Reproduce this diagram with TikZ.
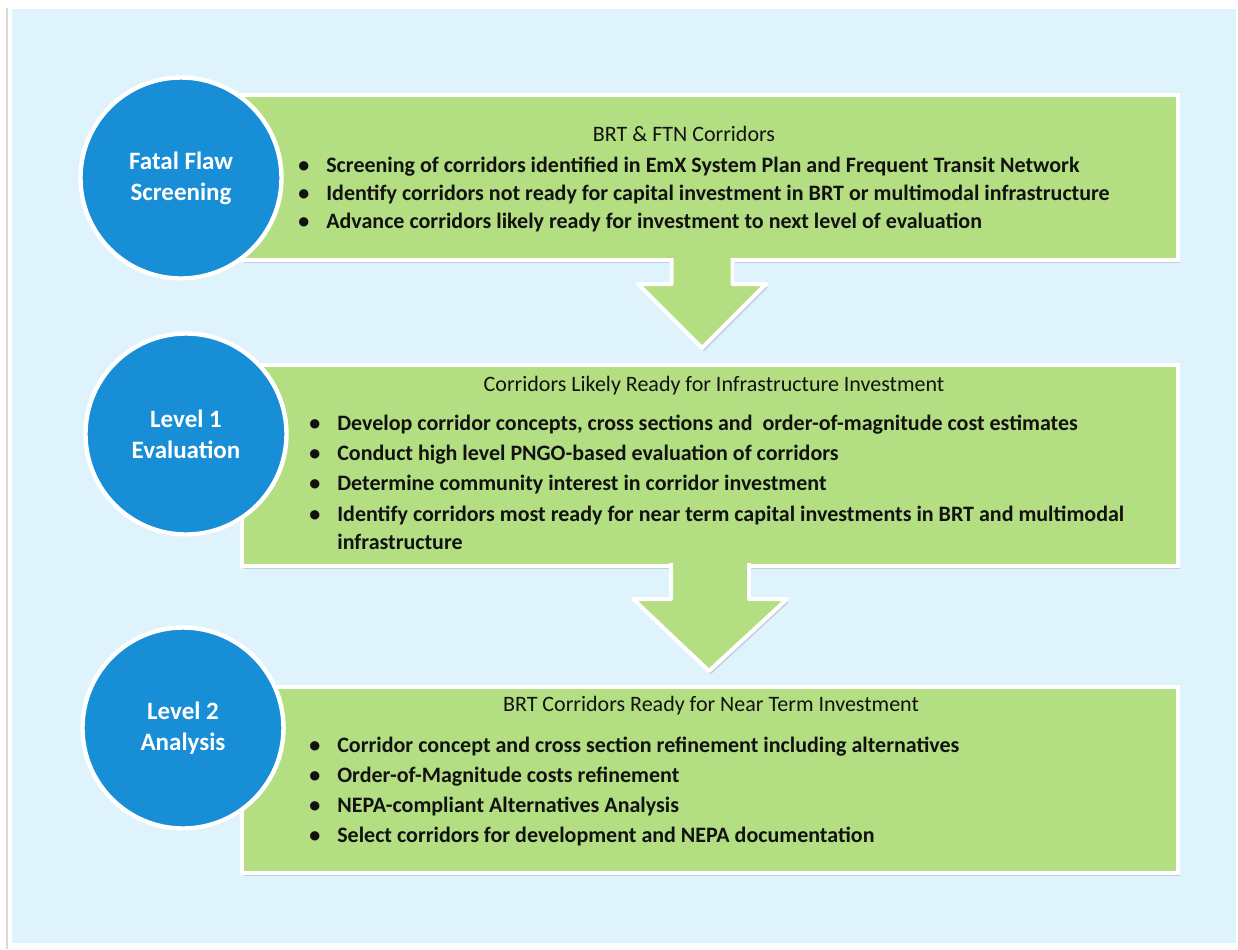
\documentclass[tikz,border=0pt]{standalone}
\usepackage{fontspec}
\setmainfont{Carlito}
\usetikzlibrary{shadows, calc}

\definecolor{paleblue}{RGB}{222,243,252}
\definecolor{stagegreen}{RGB}{179,222,129}
\definecolor{stageblue}{RGB}{23,142,214}
\definecolor{darkink}{RGB}{18,18,18}

\newcommand{\itembul}{\textbullet\hspace{8.5pt}}

\begin{document}
\begin{tikzpicture}[x=0.5pt, y=-0.5pt,
    stagebox/.style={rectangle, fill=stagegreen, draw=white, line width=2pt, minimum width=468pt,
        drop shadow={shadow xshift=1pt, shadow yshift=-1.5pt, opacity=0.3}},
    stagecircle/.style={circle, fill=stageblue, draw=white, line width=2.2pt, minimum size=100.5pt,
        align=center, text=white, font=\bfseries\fontsize{12.5}{15.5}\selectfont,
        drop shadow={shadow xshift=0.5pt, shadow yshift=-1pt, opacity=0.25}},
    boxtitle/.style={anchor=center, inner sep=0pt, text=darkink, font=\fontsize{11}{13}\selectfont,
        text height=0.65em, text depth=0.18em},
    boxitem/.style={anchor=west, inner sep=0pt, text=darkink, font=\bfseries\fontsize{11}{13}\selectfont,
        text height=0.65em, text depth=0.18em},
    flowarrow/.style={fill=stagegreen, drop shadow={shadow xshift=1pt, shadow yshift=-1.5pt, opacity=0.3}},
    flowedge/.style={draw=white, line width=2pt, line join=round}]

    \useasboundingbox (0,0) rectangle (1238,949);
    % background panel
    \fill[paleblue] (12,9) rectangle (1236,943);
    \draw[black!15, line width=0.6pt] (7,8) -- (7,949);

    % the three stages
    \node[stagebox, minimum height=82.5pt] (box1) at (710,177.5) {};
    \node[stagebox, minimum height=100.5pt] (box2) at (710,465.5) {};
    \node[stagebox, minimum height=93pt] (box3) at (710,780) {};

    % block arrows
    \coordinate (a1root) at ([xshift=-4pt,yshift=3pt]box1.south);
    \coordinate (a1tip) at ([xshift=-4pt,yshift=7.5pt]box2.north);
    \fill[flowarrow] ($(a1root)+(-30.5,0)$) -- ($(a1root)+(-30.5,28)$) -- ($(a1root)+(-64,28)$) -- (a1tip)
        -- ($(a1root)+(64,28)$) -- ($(a1root)+(30.5,28)$) -- ($(a1root)+(30.5,0)$) -- cycle;
    \draw[flowedge] ($(a1root)+(-30.5,2)$) -- ($(a1root)+(-30.5,28)$) -- ($(a1root)+(-64,28)$) -- (a1tip)
        -- ($(a1root)+(64,28)$) -- ($(a1root)+(30.5,28)$) -- ($(a1root)+(30.5,2)$);

    \coordinate (a2root) at ([yshift=3.5pt]box2.south);
    \coordinate (a2tip) at ([xshift=-0.5pt,yshift=7pt]box3.north);
    \fill[flowarrow] ($(a2root)+(-39,0)$) -- ($(a2root)+(-39,38)$) -- ($(a2root)+(-77,38)$) -- (a2tip)
        -- ($(a2root)+(77,38)$) -- ($(a2root)+(39,38)$) -- ($(a2root)+(39,0)$) -- cycle;
    \draw[flowedge] ($(a2root)+(-39,2)$) -- ($(a2root)+(-39,38)$) -- ($(a2root)+(-77,38)$) -- (a2tip)
        -- ($(a2root)+(77,38)$) -- ($(a2root)+(39,38)$) -- ($(a2root)+(39,2)$);

    % circles
    \node[stagecircle] (fatal) at (181,178) {Fatal Flaw\\Screening};
    \node[stagecircle] (lvlone) at (186,434) {Level 1\\Evaluation};
    \node[stagecircle] (lvltwo) at (183,728) {Level 2\\Analysis};

    % stage 1 text
    \node[boxtitle] (tfatal) at (684,137) {BRT \& FTN Corridors};
    \node[boxitem] (sa) at (298,168) {\itembul Screening of corridors identified in EmX System Plan and Frequent Transit Network};
    \node[boxitem] (sb) at (298,196) {\itembul Identify corridors not ready for capital investment in BRT or multimodal infrastructure};
    \node[boxitem] (sc) at (298,224) {\itembul Advance corridors likely ready for investment to next level of evaluation};

    % stage 2 text
    \node[boxtitle] (tlvlone) at (714,387) {Corridors Likely Ready for Infrastructure Investment};
    \node[boxitem] (ea) at (309,426) {\itembul Develop corridor concepts, cross sections and\ \ order-of-magnitude cost estimates};
    \node[boxitem] (eb) at (309,456) {\itembul Conduct high level PNGO-based evaluation of corridors};
    \node[boxitem] (ec) at (309,486) {\itembul Determine community interest in corridor investment};
    \node[boxitem] (ed) at (309,517) {\itembul Identify corridors most ready for near term capital investments in BRT and multimodal};
    \node[boxitem] (ee) at (309,545) {\hphantom{\itembul}infrastructure};

    % stage 3 text
    \node[boxtitle] (tlvltwo) at (711,707) {BRT Corridors Ready for Near Term Investment};
    \node[boxitem] (aa) at (309,748) {\itembul Corridor concept and cross section refinement including alternatives};
    \node[boxitem] (ab) at (309,778) {\itembul Order-of-Magnitude costs refinement};
    \node[boxitem] (ac) at (309,808) {\itembul NEPA-compliant Alternatives Analysis};
    \node[boxitem] (ad) at (309,838) {\itembul Select corridors for development and NEPA documentation};
\end{tikzpicture}
\end{document}
